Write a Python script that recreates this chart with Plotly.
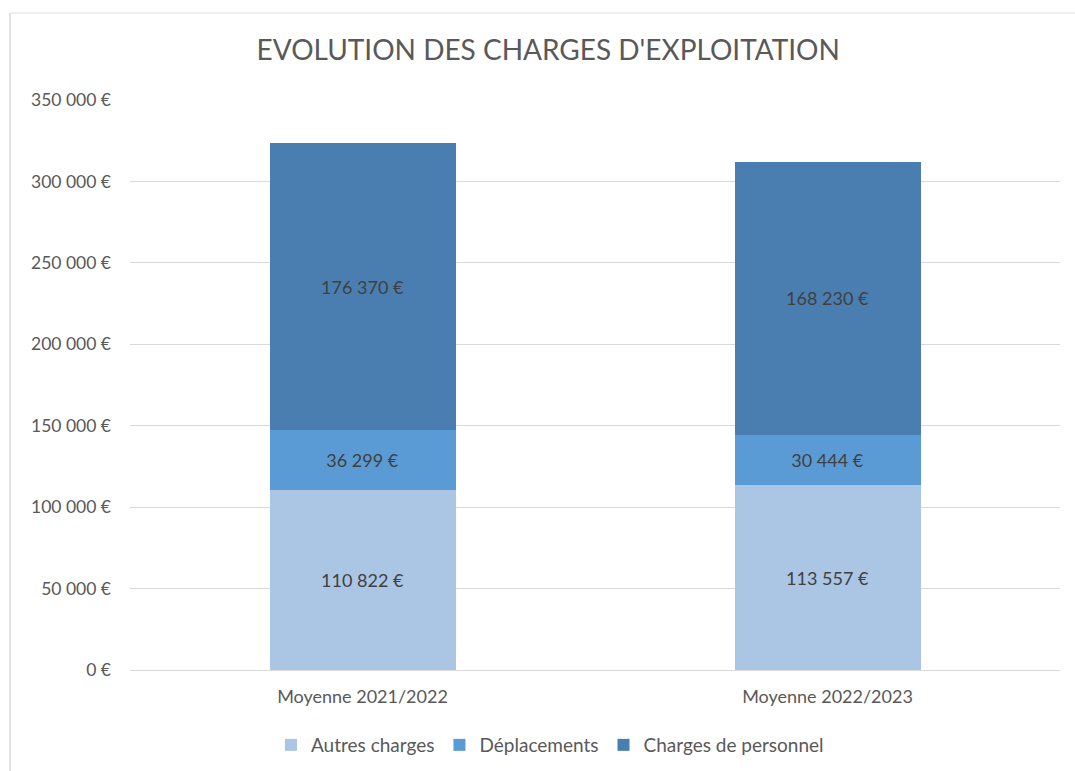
import plotly.graph_objects as go

categories = ["Moyenne 2021/2022", "Moyenne 2022/2023"]
autres_charges = [110822, 113557]
deplacements = [36299, 30444]
charges_personnel = [176370, 168230]
series_names = ["Autres charges", "Déplacements", "Charges de personnel"]
series_colors = ["#ABC5E5", "#5B9BD5", "#4A7EB0"]
tick_values = [0, 50000, 100000, 150000, 200000, 250000, 300000, 350000]


def euro(v):
    s = f"{v:,}".replace(",", " ")
    return f"{s} €"


tick_text = [euro(v) for v in tick_values]
FONT = "Lato, Carlito, sans-serif"

fig = go.Figure()
for name, vals, col in zip(series_names, [autres_charges, deplacements, charges_personnel], series_colors):
    fig.add_trace(go.Bar(
        x=categories, y=vals, name=name,
        marker=dict(color=col, line=dict(width=0)),
        text=[euro(v) for v in vals], textposition="inside",
        insidetextanchor="middle",
        textfont=dict(family=FONT, size=18, color="#404040"),
        width=0.4,
    ))

fig.update_layout(
    barmode="stack",
    width=1075, height=771,
    margin=dict(l=130, r=15, t=100, b=101, autoexpand=False),
    paper_bgcolor="white", plot_bgcolor="white",
    title=dict(text="EVOLUTION DES CHARGES D'EXPLOITATION", x=0.51, xanchor="center",
               y=1 - 50/771, yref="container", yanchor="middle",
               font=dict(family=FONT, size=28, color="#595959")),
    yaxis=dict(range=[0, 350000], tickvals=tick_values, ticktext=tick_text,
               showgrid=True, gridcolor="#D9D9D9", gridwidth=1, zeroline=False,
               tickfont=dict(family=FONT, size=17.5, color="#595959"),
               ticklabelstandoff=18, showline=False, automargin=False),
    xaxis=dict(showline=True, linecolor="#D9D9D9", linewidth=1,
               tickfont=dict(family=FONT, size=18, color="#595959"),
               ticklabelstandoff=10, automargin=False),
    showlegend=True,
    legend=dict(orientation="h", x=0.4516, xanchor="center", y=-0.1316, yanchor="middle",
                font=dict(family=FONT, size=19, color="#595959"), traceorder="normal",
                itemwidth=30),
    shapes=[
        dict(type="line", xref="paper", yref="paper", x0=-0.129, x1=1.02, y0=1.1526, y1=1.1526,
             line=dict(color="#E0E0E0", width=1)),
        dict(type="line", xref="paper", yref="paper", x0=-0.129, x1=-0.129, y0=1.1526, y1=-0.2,
             line=dict(color="#D9D9D9", width=1.5)),
    ],
)

fig.write_html("out.html", config={"displayModeBar": False},
               post_script="document.body.style.margin='0';")
